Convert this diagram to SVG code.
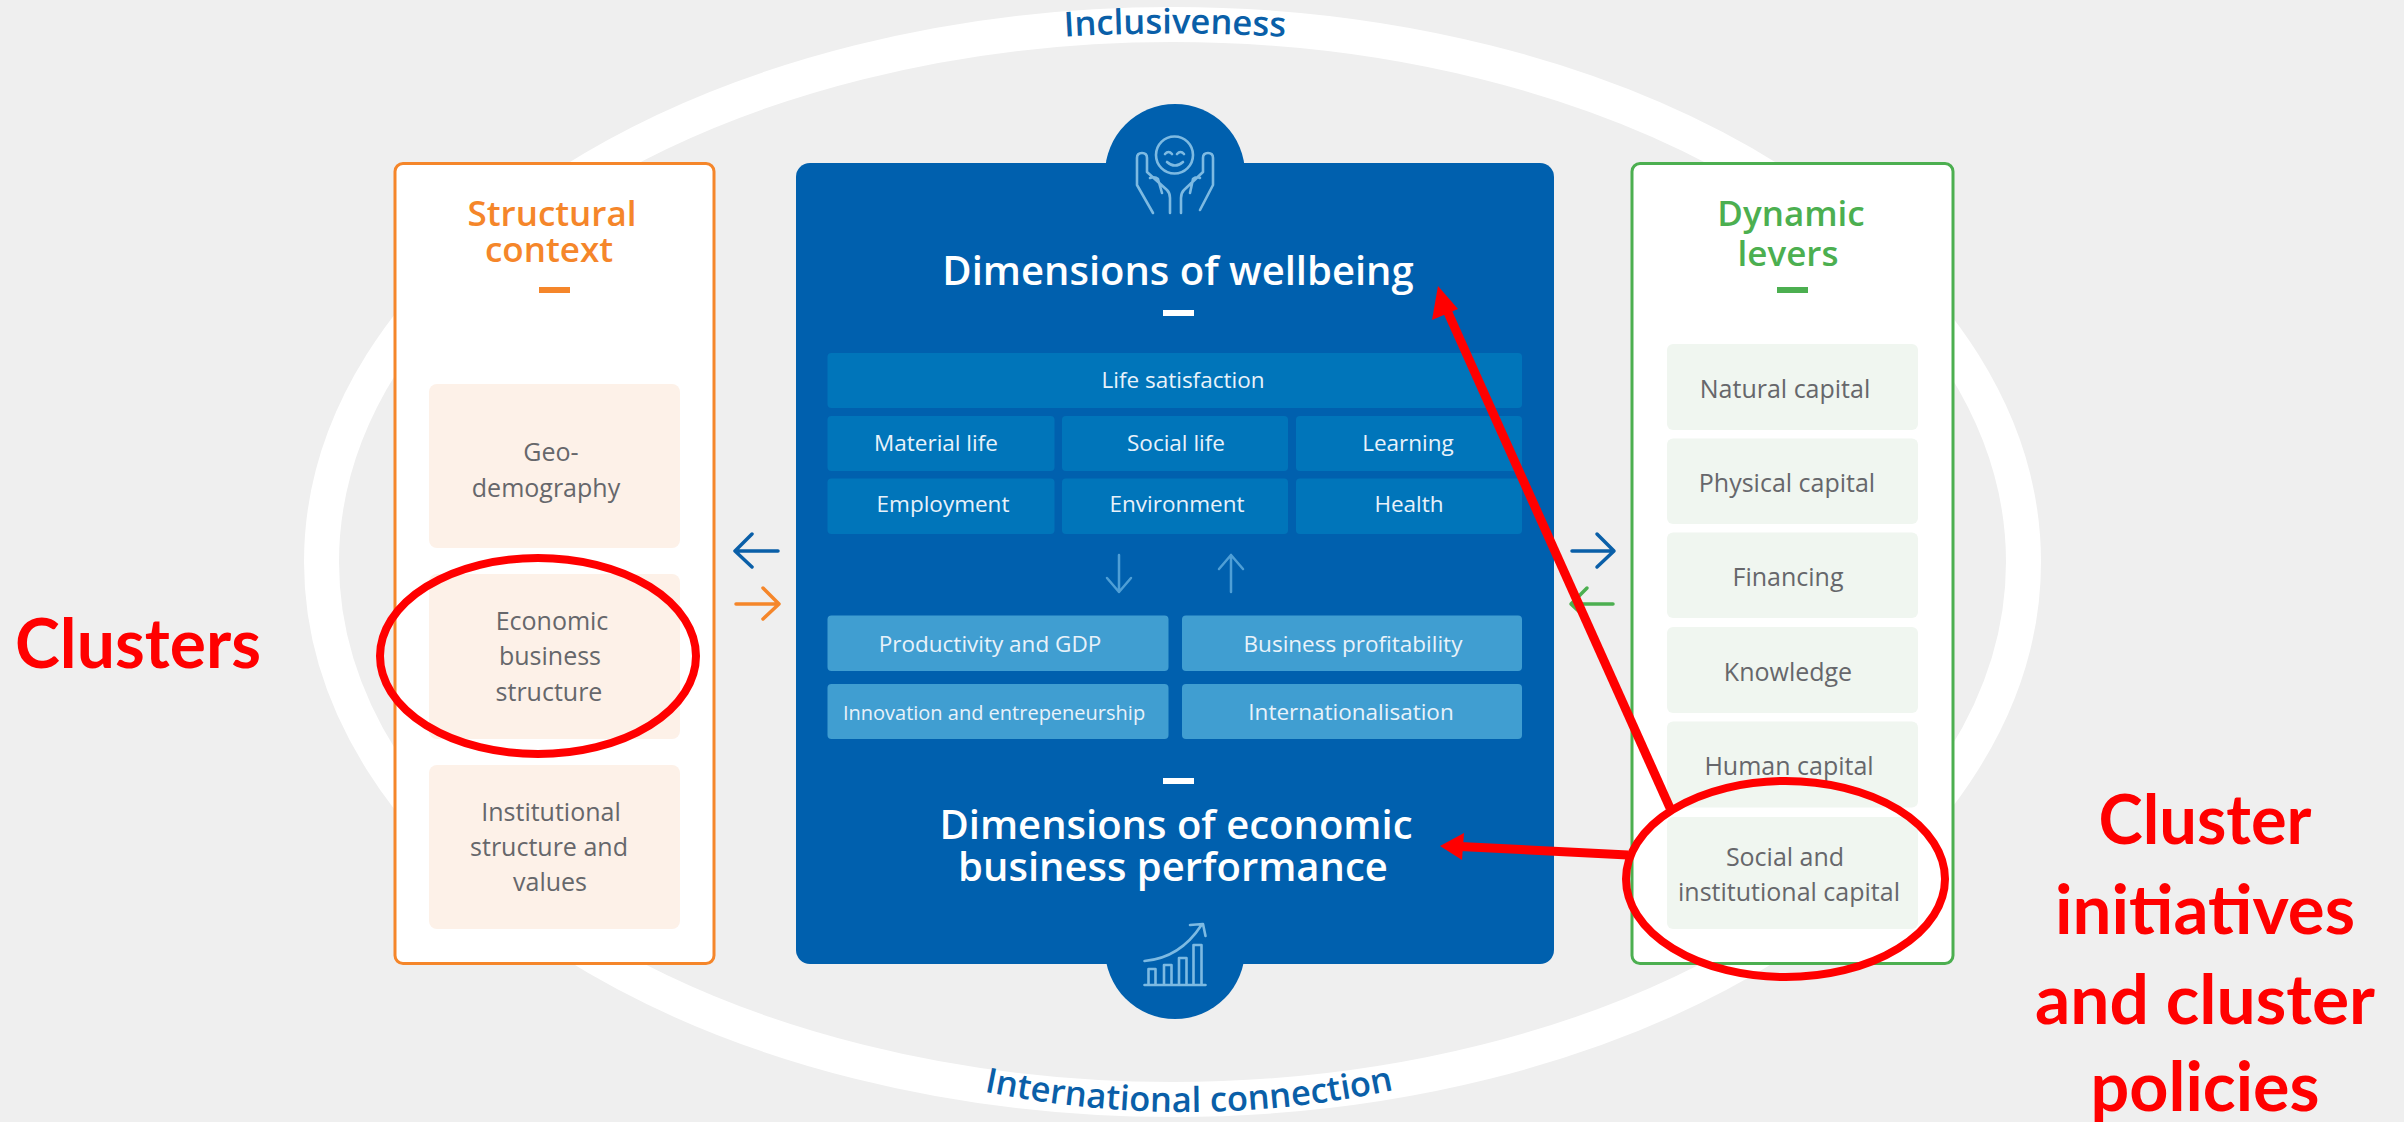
<svg xmlns="http://www.w3.org/2000/svg" width="2404" height="1122" viewBox="0 0 2404 1122">
<defs>
<style>
text{font-family:"Open Sans","Noto Sans",sans-serif;text-anchor:middle}
.h{font-size:35px;font-weight:600}
.big{font-size:40px;font-weight:600;fill:#fff}
.lab{font-size:25px;fill:#66676b}
.in{font-size:22.500px;fill:#e8f2fa}
.red{font-family:"Lato","Open Sans",sans-serif;font-weight:700;fill:#f00;font-size:68px}
.ring{font-size:34.500px;font-weight:600;fill:#0a5fa8}
.arr{fill:none;stroke-width:3.5;stroke-linecap:round;stroke-linejoin:round}
.ic{fill:none;stroke:#7dbae2;stroke-width:2.6;stroke-linecap:round;stroke-linejoin:round}
.dk{fill:#0075ba}.lt{fill:#409ed1}.or{fill:#fdf1e8}.gr{fill:#f0f6f0}
</style>
<path id="topArc" d="M 950 47 Q 1172 20 1400 47"/>
<path id="botArc" d="M 934 1080 Q 1189 1145 1444 1078"/>
</defs>
<rect width="2404" height="1122" fill="#efefef"/>
<g id="ring"><ellipse cx="1172.500" cy="562" rx="851" ry="537.500" fill="none" stroke="#fff" stroke-width="35"/>
<text class="ring"><textPath href="#topArc" startOffset="50%">Inclusiveness</textPath></text>
<text class="ring"><textPath href="#botArc" startOffset="50%">International connection</textPath></text></g>
<g id="structural-context">
<rect x="395" y="163.500" width="319" height="800" rx="8" fill="#fff" stroke="#f5862a" stroke-width="3"/>
<text class="h" fill="#f5862a" x="552" y="226">Structural</text><text class="h" fill="#f5862a" x="549" y="262">context</text>
<rect x="539" y="287" width="31" height="6" fill="#f5862a"/>
<g id="geo"><rect class="or" x="429" y="384" width="251" height="164" rx="8"/><text class="lab" x="551" y="461">Geo-</text><text class="lab" x="546" y="497">demography</text></g>
<g id="economic"><rect class="or" x="429" y="574" width="251" height="165" rx="8"/><text class="lab" x="552" y="630">Economic</text><text class="lab" x="550" y="665">business</text><text class="lab" x="549" y="701">structure</text></g>
<g id="institutional"><rect class="or" x="429" y="765" width="251" height="164" rx="8"/><text class="lab" x="551" y="821">Institutional</text><text class="lab" x="549" y="856">structure and</text><text class="lab" x="550" y="891">values</text></g>
</g>
<g id="dimensions">
<circle cx="1175" cy="174" r="70" fill="#0060ae"/><circle cx="1175" cy="949" r="70" fill="#0060ae"/>
<rect x="796" y="163" width="758" height="801" rx="14" fill="#0060ae"/>
<g id="icon-wellbeing" class="ic"><circle cx="1174.500" cy="155" r="18.500"/><path d="M1165 154q3.500-4 7 0M1177 154q3.500-4 7 0M1167 162q8 7 16 0"/><path d="M1153 213L1137 185V158Q1137 153 1142 153Q1147 153 1147 158V172L1167 190Q1170 193 1170 198V213M1150 178Q1155 176 1158 179L1162 193"/><path d="M1200 210L1213 185V158Q1213 153 1208 153Q1203 153 1203 158V172L1184 190Q1181 193 1181 198V213M1200 178Q1196 176 1193 179L1190 193"/></g>
<g id="icon-growth" class="ic"><path d="M1144.500 985H1205.500M1148.500 985V969H1155.500V985M1164 985V965H1171.500V985M1179 985V958H1186.500V985M1193.500 985V945H1201.500V985M1144.500 961Q1180 958 1201.500 925M1190 925L1203 924L1205.500 936"/></g>
<text class="big" x="1178" y="285">Dimensions of wellbeing</text>
<rect x="1163" y="310" width="31" height="6" fill="#fff"/>
<rect class="dk" x="827.500" y="353" width="694.500" height="55" rx="4"/><text class="in" x="1183" y="388">Life satisfaction</text>
<rect class="dk" x="827.500" y="416" width="227" height="55" rx="4"/><text class="in" x="936" y="451">Material life</text>
<rect class="dk" x="1062" y="416" width="226" height="55" rx="4"/><text class="in" x="1176" y="451">Social life</text>
<rect class="dk" x="1296" y="416" width="226" height="55" rx="4"/><text class="in" x="1408" y="451">Learning</text>
<rect class="dk" x="827.500" y="478.500" width="227" height="55.500" rx="4"/><text class="in" x="943" y="512">Employment</text>
<rect class="dk" x="1062" y="478.500" width="226" height="55.500" rx="4"/><text class="in" x="1177" y="512">Environment</text>
<rect class="dk" x="1296" y="478.500" width="226" height="55.500" rx="4"/><text class="in" x="1409" y="512">Health</text>
<rect class="lt" x="827.500" y="615.500" width="341" height="55.500" rx="4"/><text class="in" x="990" y="652">Productivity and GDP</text>
<rect class="lt" x="1182" y="615.500" width="340" height="55.500" rx="4"/><text class="in" x="1353" y="652">Business profitability</text>
<rect class="lt" x="827.500" y="684" width="341" height="55" rx="4"/><text class="in" x="994" y="720" style="font-size:20px">Innovation and entrepeneurship</text>
<rect class="lt" x="1182" y="684" width="340" height="55" rx="4"/><text class="in" x="1351" y="720">Internationalisation</text>
<rect x="1163" y="778" width="31" height="6" fill="#fff"/>
<text class="big" x="1176" y="839">Dimensions of economic</text><text class="big" x="1173" y="881">business performance</text>
</g>
<g id="dynamic-levers">
<rect x="1632" y="163.500" width="321" height="800" rx="8" fill="#fff" stroke="#4caf50" stroke-width="3"/>
<text class="h" fill="#4caf50" x="1791" y="226">Dynamic</text><text class="h" fill="#4caf50" x="1788" y="266">levers</text>
<rect x="1777" y="287" width="31" height="6" fill="#4caf50"/>
<g id="natural"><rect class="gr" x="1667" y="344" width="251" height="86" rx="6"/><text class="lab" x="1785" y="398">Natural capital</text></g>
<g id="physical"><rect class="gr" x="1667" y="438.500" width="251" height="85.500" rx="6"/><text class="lab" x="1787" y="492">Physical capital</text></g>
<g id="financing"><rect class="gr" x="1667" y="532.500" width="251" height="85.500" rx="6"/><text class="lab" x="1788" y="586">Financing</text></g>
<g id="knowledge"><rect class="gr" x="1667" y="627" width="251" height="86" rx="6"/><text class="lab" x="1788" y="681">Knowledge</text></g>
<g id="human"><rect class="gr" x="1667" y="721.500" width="251" height="86" rx="6"/><text class="lab" x="1789" y="775">Human capital</text></g>
<g id="social"><rect class="gr" x="1667" y="817" width="251" height="112" rx="6"/><text class="lab" x="1785" y="866">Social and</text><text class="lab" x="1789" y="901">institutional capital</text></g>
</g>
<g id="connectors">
<path class="arr" stroke="#0a5fa8" d="M778 551H736M752 534L735 551L752 567"/>
<path class="arr" stroke="#f5862a" d="M736 604H778M763 588L779 604L763 619"/>
<path class="arr" stroke="#0a5fa8" d="M1572 551H1613M1597 534L1614 551L1597 567"/>
<path class="arr" stroke="#4caf50" d="M1613 604H1572M1587 588L1571 604L1587 619"/>
<path class="arr" stroke="#4f9fd6" d="M1119 555V592M1107 578L1119 592L1131 578" style="stroke-width:2.500"/>
<path class="arr" stroke="#4f9fd6" d="M1231 592V555M1219 569L1231 555L1243 569" style="stroke-width:2.500"/>
<line x1="1670" y1="808" x2="1441" y2="297" stroke="#f00" stroke-width="9"/>
<path d="M1438 286L1458 309L1432 320Z" fill="#f00"/>
<line x1="1628" y1="855" x2="1450" y2="846" stroke="#f00" stroke-width="9"/>
<path d="M1440 846L1464 833L1462 860Z" fill="#f00"/>
<ellipse cx="538" cy="656" rx="158" ry="98" fill="none" stroke="#f00" stroke-width="8"/>
<ellipse cx="1785.500" cy="879" rx="159.500" ry="98" fill="none" stroke="#f00" stroke-width="8"/>
</g>
<g id="annotations">
<text class="red" x="138" y="668" textLength="246" lengthAdjust="spacingAndGlyphs">Clusters</text>
<text class="red" x="2205" y="844" textLength="213" lengthAdjust="spacingAndGlyphs">Cluster</text>
<text class="red" x="2205" y="933.500" textLength="300" lengthAdjust="spacingAndGlyphs">initiatives</text>
<text class="red" x="2205" y="1023.500" textLength="340" lengthAdjust="spacingAndGlyphs">and cluster</text>
<text class="red" x="2205" y="1111" textLength="229" lengthAdjust="spacingAndGlyphs">policies</text>
</g>
</svg>
